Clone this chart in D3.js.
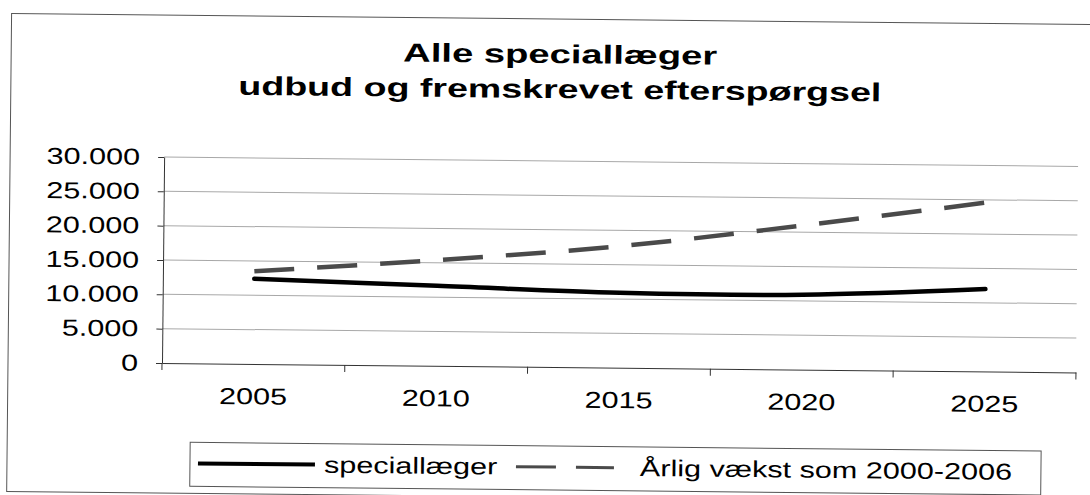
<!DOCTYPE html>
<meta charset="utf-8">
<script src="https://d3js.org/d3.v7.min.js"></script>
<style>
body { margin: 0; background: #fff; }
* { font-family: "Liberation Sans", Arial, Helvetica, sans-serif; }
</style>
<div id="chart"></div>
<script>
// data
const categories = ["2005", "2010", "2015", "2020", "2025"];
const speciallaeger = [12400, 11650, 10900, 10900, 12000];
const aarligVaekst = [13500, 15400, 17700, 21000, 24600];
const yTicks = [0, 5000, 10000, 15000, 20000, 25000, 30000];
const titleLines = ["Alle speciallæger", "udbud og fremskrevet efterspørgsel"];
const seriesNames = ["speciallæger", "Årlig vækst som 2000-2006"];

const W = 1090, H = 495;
const plot = {left: 162, right: 1076, top: 157, bottom: 363};
const stretch = 1.33; // the scan is wider than it is tall

const svg = d3.select("#chart").append("svg")
    .attr("width", W)
    .attr("height", H);

// the whole scan is tilted a little
const g = svg.append("g")
    .attr("transform", `rotate(0.59, ${plot.left}, ${plot.bottom})`);

// chart border
g.append("rect")
    .attr("x", 8).attr("y", 15)
    .attr("width", 1110).attr("height", 478)
    .attr("fill", "none")
    .attr("stroke", "#555")
    .attr("stroke-width", 1);

// title
g.selectAll(".title")
  .data(titleLines)
  .join("text")
    .attr("class", "title")
    .attr("x", 557)
    .attr("y", (d, i) => 59 + i * 35)
    .attr("text-anchor", "middle")
    .attr("textLength", (d, i) => i === 0 ? 314 : 643)
    .attr("lengthAdjust", "spacingAndGlyphs")
    .style("font-size", "26px")
    .style("font-weight", "bold")
    .text(d => d);

// scales
const x = d3.scaleBand()
    .domain(categories)
    .range([plot.left, plot.right])
    .padding(0);
const y = d3.scaleLinear()
    .domain([0, 30000])
    .range([plot.bottom, plot.top]);

const locale = d3.formatLocale({decimal: ",", thousands: ".", grouping: [3], currency: ["", " kr"]});
const fmt = locale.format(",");

// gridlines
g.selectAll(".grid")
  .data(yTicks.filter(d => d > 0))
  .join("line")
    .attr("class", "grid")
    .attr("x1", plot.left).attr("x2", plot.right)
    .attr("y1", d => y(d)).attr("y2", d => y(d))
    .attr("stroke", "#a8a8a8")
    .attr("stroke-width", 1);

// y axis
const yAxis = g.append("g")
    .attr("transform", `translate(${plot.left},0)`)
    .call(d3.axisLeft(y).tickValues(yTicks).tickSizeInner(6).tickSizeOuter(0).tickFormat(fmt));
yAxis.select(".domain").attr("stroke", "#333");
yAxis.selectAll(".tick line").attr("stroke", "#333");
yAxis.selectAll(".tick text")
    .attr("x", -24 / stretch)
    .attr("transform", `scale(${stretch},1)`)
    .attr("fill", "#000")
    .style("font-size", "23px");

// x axis: labels in the middle of each category, ticks between them
const xAxis = g.append("g")
    .attr("transform", `translate(0,${plot.bottom})`)
    .call(d3.axisBottom(x).tickSizeInner(0).tickSizeOuter(0).tickPadding(24));
xAxis.select(".domain").attr("stroke", "#333");
xAxis.selectAll(".tick text")
    .attr("transform", `scale(${stretch},1)`)
    .attr("fill", "#000")
    .style("font-size", "23px");
xAxis.selectAll(".boundary")
  .data(categories.map(c => x(c)).concat([x.range()[1]]))
  .join("line")
    .attr("class", "boundary")
    .attr("x1", d => d).attr("x2", d => d)
    .attr("y1", 0).attr("y2", 7)
    .attr("stroke", "#333");

// lines
const line = d3.line()
    .x((d, i) => x(categories[i]) + x.bandwidth() / 2)
    .y(d => y(d))
    .curve(d3.curveCatmullRom.alpha(0.5));

g.append("path")
    .attr("d", line(aarligVaekst))
    .attr("fill", "none")
    .attr("stroke", "#4a4a4a")
    .attr("stroke-width", 4.5)
    .attr("stroke-dasharray", "40,23");

g.append("path")
    .attr("d", line(speciallaeger))
    .attr("fill", "none")
    .attr("stroke", "#000")
    .attr("stroke-width", 4.5)
    .attr("stroke-linecap", "round");

// legend
const leg = g.append("g");
leg.append("rect")
    .attr("x", 191).attr("y", 442)
    .attr("width", 851).attr("height", 44)
    .attr("fill", "#fff")
    .attr("stroke", "#555");
leg.append("line")
    .attr("x1", 199).attr("x2", 316)
    .attr("y1", 463).attr("y2", 463)
    .attr("stroke", "#000").attr("stroke-width", 4);
leg.append("line")
    .attr("x1", 517).attr("x2", 615)
    .attr("y1", 463).attr("y2", 463)
    .attr("stroke", "#4a4a4a").attr("stroke-width", 3)
    .attr("stroke-dasharray", "40,20");
leg.selectAll(".legtext")
  .data(seriesNames)
  .join("text")
    .attr("class", "legtext")
    .attr("transform", (d, i) => `translate(${i === 0 ? 325 : 641},471) scale(${stretch},1)`)
    .style("font-size", "23px")
    .text(d => d);
</script>
